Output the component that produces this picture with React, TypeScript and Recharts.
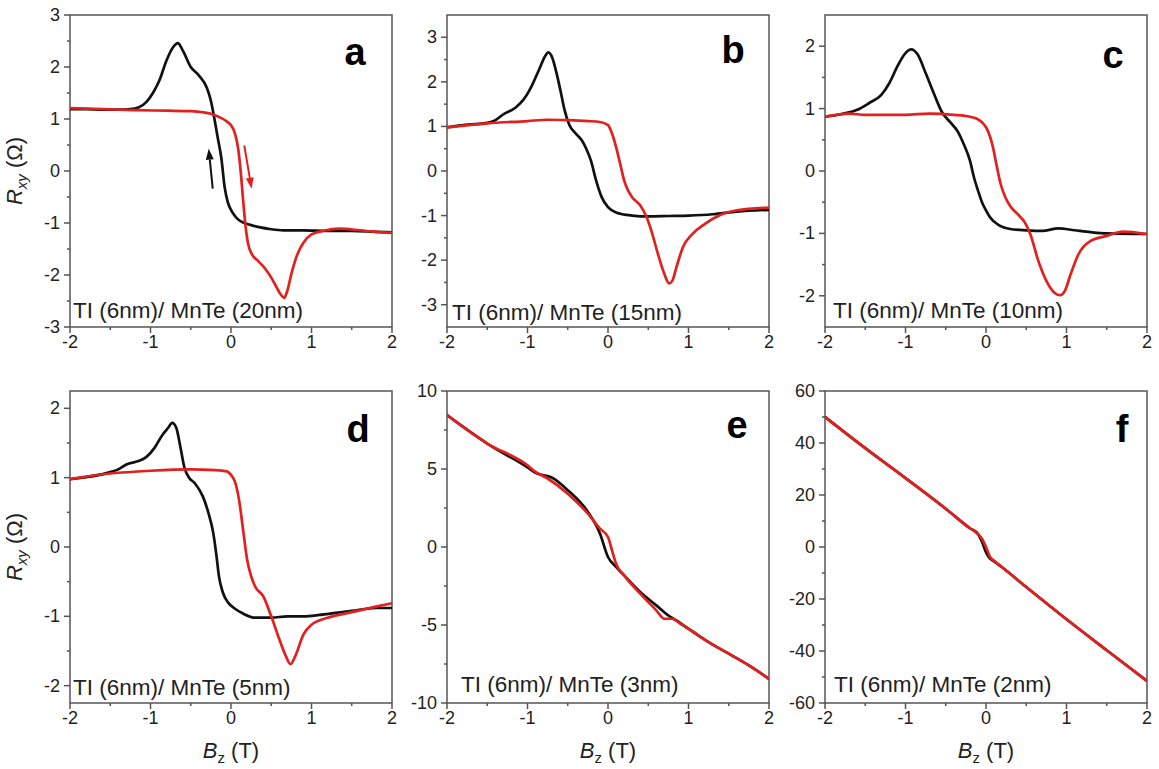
import { LineChart, Line, XAxis, YAxis, ReferenceArea, ReferenceLine } from 'recharts';

type Pt = [number, number];

const FONT = '"Liberation Sans", Arial, sans-serif';
const AXIS = '#555';
const INK = '#222';
const RED = '#e2201e';
const BLACK = '#111';

const PW = 322;
const PH = 312;

// field axis, same for every panel
const bMajor = [-2, -1, 0, 1, 2];
const bMinor = [-1.5, -0.5, 0.5, 1.5];

// a: TI (6nm)/ MnTe (20nm)
const aMajor = [-3, -2, -1, 0, 1, 2, 3];
const aMinor = [-2.5, -1.5, -0.5, 0.5, 1.5, 2.5];
const aBlack: Pt[] = [
  [-2, 1.19], [-1.8, 1.19], [-1.6, 1.18], [-1.4, 1.18], [-1.25, 1.19], [-1.15, 1.22], [-1.05, 1.33],
  [-0.97, 1.5], [-0.89, 1.74], [-0.8, 2.13], [-0.72, 2.38], [-0.66, 2.46], [-0.6, 2.32], [-0.5, 2.0],
  [-0.4, 1.84], [-0.3, 1.6], [-0.25, 1.35], [-0.2, 0.95], [-0.16, 0.6], [-0.12, 0.25], [-0.08, -0.3],
  [-0.04, -0.6], [0.02, -0.8], [0.08, -0.92], [0.15, -0.99], [0.25, -1.04], [0.35, -1.08], [0.5, -1.12],
  [0.65, -1.14], [0.9, -1.14], [1.2, -1.15], [1.5, -1.15], [1.8, -1.17], [2, -1.18],
];
const aRed: Pt[] = [
  [-2, 1.21], [-1.6, 1.19], [-1.2, 1.17], [-0.8, 1.16], [-0.5, 1.15], [-0.35, 1.13], [-0.25, 1.1],
  [-0.15, 1.04], [-0.05, 0.95], [0, 0.88], [0.05, 0.72], [0.09, 0.42], [0.12, 0.0], [0.15, -0.55],
  [0.18, -1.05], [0.21, -1.38], [0.26, -1.6], [0.33, -1.72], [0.42, -1.87], [0.5, -2.05], [0.56, -2.22],
  [0.62, -2.38], [0.66, -2.44], [0.7, -2.3], [0.75, -1.98], [0.82, -1.62], [0.9, -1.38], [1.0, -1.22],
  [1.15, -1.15], [1.35, -1.11], [1.6, -1.14], [1.8, -1.17], [2, -1.19],
];
const aArrows = [
  { from: [-0.227, -0.34] as Pt, to: [-0.277, 0.43] as Pt, color: BLACK },
  { from: [0.165, 0.49] as Pt, to: [0.256, -0.34] as Pt, color: RED },
];

// b: 15nm
const bYMajor = [-3, -2, -1, 0, 1, 2, 3];
const bYMinor = [-2.5, -1.5, -0.5, 0.5, 1.5, 2.5];
const bBlack: Pt[] = [
  [-2, 0.98], [-1.75, 1.04], [-1.5, 1.08], [-1.42, 1.12], [-1.3, 1.27], [-1.15, 1.42], [-1.05, 1.6],
  [-0.95, 1.9], [-0.85, 2.3], [-0.78, 2.58], [-0.74, 2.66], [-0.69, 2.53], [-0.64, 2.2], [-0.59, 1.8],
  [-0.54, 1.37], [-0.48, 1.03], [-0.4, 0.84], [-0.33, 0.7], [-0.27, 0.5], [-0.21, 0.22], [-0.15, -0.2],
  [-0.08, -0.58], [0, -0.81], [0.1, -0.93], [0.3, -1.0], [0.5, -1.02], [0.75, -1.01], [1.0, -1.0],
  [1.3, -0.97], [1.6, -0.91], [2, -0.87],
];
const bRed: Pt[] = [
  [-2, 0.98], [-1.5, 1.07], [-1.0, 1.12], [-0.75, 1.15], [-0.5, 1.14], [-0.25, 1.12], [-0.1, 1.1],
  [0, 1.03], [0.05, 0.84], [0.1, 0.54], [0.15, 0.17], [0.2, -0.21], [0.25, -0.44], [0.3, -0.59],
  [0.4, -0.77], [0.48, -1.04], [0.55, -1.41], [0.62, -1.86], [0.7, -2.31], [0.76, -2.52], [0.8, -2.46],
  [0.85, -2.16], [0.93, -1.71], [1.05, -1.41], [1.2, -1.19], [1.4, -0.98], [1.6, -0.88], [2, -0.82],
];

// c: 10nm
const cYMajor = [-2, -1, 0, 1, 2];
const cYMinor = [-1.5, -0.5, 0.5, 1.5];
const cBlack: Pt[] = [
  [-2, 0.87], [-1.8, 0.91], [-1.6, 0.98], [-1.45, 1.09], [-1.3, 1.22], [-1.2, 1.41], [-1.1, 1.68],
  [-1.0, 1.89], [-0.93, 1.95], [-0.85, 1.87], [-0.75, 1.57], [-0.65, 1.25], [-0.55, 0.95], [-0.45, 0.79],
  [-0.35, 0.63], [-0.28, 0.44], [-0.2, 0.17], [-0.15, -0.1], [-0.1, -0.31], [-0.05, -0.5], [0, -0.63],
  [0.05, -0.74], [0.15, -0.86], [0.3, -0.93], [0.5, -0.95], [0.7, -0.96], [0.9, -0.92], [1.1, -0.95],
  [1.3, -0.98], [1.5, -1.0], [2, -1.01],
];
const cRed: Pt[] = [
  [-2, 0.87], [-1.7, 0.92], [-1.5, 0.9], [-1.0, 0.9], [-0.7, 0.92], [-0.4, 0.9], [-0.2, 0.87],
  [-0.12, 0.84], [-0.05, 0.78], [0.01, 0.68], [0.05, 0.55], [0.09, 0.36], [0.13, 0.1], [0.18, -0.2],
  [0.24, -0.42], [0.3, -0.56], [0.4, -0.7], [0.48, -0.82], [0.55, -1.01], [0.65, -1.44], [0.75, -1.76],
  [0.85, -1.95], [0.92, -1.99], [0.98, -1.92], [1.05, -1.66], [1.15, -1.33], [1.3, -1.12], [1.5, -1.04],
  [1.7, -0.97], [2, -1.01],
];

// d: 5nm
const dYMajor = [-2, -1, 0, 1, 2];
const dYMinor = [-1.5, -0.5, 0.5, 1.5];
const dBlack: Pt[] = [
  [-2, 0.98], [-1.5, 1.08], [-1.4, 1.12], [-1.3, 1.19], [-1.15, 1.24], [-1.05, 1.3], [-0.95, 1.43],
  [-0.85, 1.62], [-0.78, 1.72], [-0.73, 1.79], [-0.68, 1.72], [-0.63, 1.45], [-0.58, 1.15], [-0.52, 1.0],
  [-0.45, 0.92], [-0.35, 0.73], [-0.28, 0.49], [-0.22, 0.2], [-0.18, -0.13], [-0.15, -0.42], [-0.1, -0.66],
  [-0.03, -0.81], [0.05, -0.89], [0.15, -0.96], [0.3, -1.02], [0.5, -1.02], [0.7, -1.0], [0.9, -1.0],
  [1.1, -0.98], [1.3, -0.95], [1.5, -0.92], [1.8, -0.88], [2, -0.88],
];
const dRed: Pt[] = [
  [-2, 0.98], [-1.5, 1.06], [-1.0, 1.1], [-0.5, 1.12], [-0.2, 1.11], [-0.05, 1.09], [0, 1.04],
  [0.05, 0.94], [0.1, 0.68], [0.15, 0.25], [0.2, -0.18], [0.25, -0.42], [0.3, -0.57], [0.4, -0.71],
  [0.5, -1.0], [0.6, -1.33], [0.68, -1.57], [0.74, -1.69], [0.8, -1.57], [0.9, -1.26], [1.0, -1.12],
  [1.2, -1.02], [1.5, -0.94], [1.8, -0.86], [2, -0.81],
];

// e: 3nm
const eYMajor = [-10, -5, 0, 5, 10];
const eYMinor = [-7.5, -2.5, 2.5, 7.5];
const eBlack: Pt[] = [
  [-2, 8.45], [-1.5, 6.63], [-1.0, 5.1], [-0.9, 4.75], [-0.8, 4.6], [-0.7, 4.45], [-0.5, 3.64],
  [-0.25, 2.25], [-0.1, 0.86], [0, -0.64], [0.1, -1.28], [0.2, -1.82], [0.4, -2.89], [0.6, -3.74],
  [0.75, -4.39], [0.85, -4.71], [1.0, -5.24], [1.25, -6.1], [1.5, -6.84], [1.75, -7.59], [2, -8.45],
];
const eRed: Pt[] = [
  [-2, 8.45], [-1.5, 6.63], [-1.0, 5.24], [-0.9, 4.81], [-0.75, 4.39], [-0.5, 3.42], [-0.25, 2.14],
  [-0.1, 1.18], [0, 0.64], [0.05, -0.21], [0.1, -1.07], [0.2, -1.82], [0.4, -2.99], [0.6, -4.06],
  [0.7, -4.6], [0.8, -4.6], [0.9, -4.92], [1.0, -5.24], [1.25, -6.1], [1.5, -6.84], [1.75, -7.59], [2, -8.45],
];

// f: 2nm
const fYMajor = [-60, -40, -20, 0, 20, 40, 60];
const fYMinor = [-50, -30, -10, 10, 30, 50];
const fBlack: Pt[] = [
  [-2, 50], [-1.5, 38], [-1, 26.5], [-0.5, 14.7], [-0.2, 7.2], [-0.1, 5], [-0.05, 2], [0, -2],
  [0.05, -4.5], [0.1, -5.5], [0.2, -7.8], [0.5, -15.4], [1, -27.8], [1.5, -39.7], [2, -51.5],
];
const fRed: Pt[] = [
  [-2, 50], [-1.5, 38], [-1, 26.5], [-0.5, 14.7], [-0.2, 7.2], [-0.1, 5], [-0.05, 3.2], [0, 0],
  [0.05, -3.8], [0.1, -5.3], [0.2, -7.8], [0.5, -15.4], [1, -27.8], [1.5, -39.7], [2, -51.5],
];

type Arrow = { from: Pt; to: Pt; color: string };
type PanelCfg = {
  letter: string;
  sample: string;
  left: number;
  top: number;
  yDomain: [number, number];
  yMajor: number[];
  yMinor: number[];
  black: Pt[];
  red: Pt[];
  arrows?: Arrow[];
  textDx: number;
  textDy: number;
  letterX: number;
  letterY: number;
};

const panels: PanelCfg[] = [
  { letter: 'a', sample: 'TI (6nm)/ MnTe (20nm)', left: 70, top: 15, yDomain: [-3, 3], yMajor: aMajor, yMinor: aMinor, black: aBlack, red: aRed, arrows: aArrows, textDx: 3, textDy: 9, letterX: 285, letterY: 50 },
  { letter: 'b', sample: 'TI (6nm)/ MnTe (15nm)', left: 447, top: 15, yDomain: [-3.5, 3.5], yMajor: bYMajor, yMinor: bYMinor, black: bBlack, red: bRed, textDx: 5, textDy: 7, letterX: 286, letterY: 48 },
  { letter: 'c', sample: 'TI (6nm)/ MnTe (10nm)', left: 825, top: 15, yDomain: [-2.5, 2.5], yMajor: cYMajor, yMinor: cYMinor, black: cBlack, red: cRed, textDx: 8, textDy: 9, letterX: 288, letterY: 53 },
  { letter: 'd', sample: 'TI (6nm)/ MnTe (5nm)', left: 70, top: 391, yDomain: [-2.25, 2.25], yMajor: dYMajor, yMinor: dYMinor, black: dBlack, red: dRed, textDx: 3, textDy: 8, letterX: 288, letterY: 51 },
  { letter: 'e', sample: 'TI (6nm)/ MnTe (3nm)', left: 447, top: 391, yDomain: [-10, 10], yMajor: eYMajor, yMinor: eYMinor, black: eBlack, red: eRed, textDx: 14, textDy: 11, letterX: 290, letterY: 47 },
  { letter: 'f', sample: 'TI (6nm)/ MnTe (2nm)', left: 825, top: 391, yDomain: [-60, 60], yMajor: fYMajor, yMinor: fYMinor, black: fBlack, red: fRed, textDx: 9, textDy: 11, letterX: 297, letterY: 51 },
];

const pts = (arr: Pt[]) => arr.map(([x, y]) => ({ x, y }));
const byValue = (a: number, b: number) => a - b;

function XTick({ x, y, payload }: any) {
  const major = bMajor.includes(payload.value);
  return (
    <g>
      <line x1={x} y1={y} x2={x} y2={y + (major ? 6 : 3)} stroke={AXIS} strokeWidth={1.5} />
      {major && (
        <text x={x} y={y + 21} textAnchor="middle" fontSize={18} fill={INK} fontFamily={FONT}>
          {payload.value}
        </text>
      )}
    </g>
  );
}

function YTick({ x, y, payload, majors }: any) {
  const major = majors.includes(payload.value);
  return (
    <g>
      <line x1={x} y1={y} x2={x - (major ? 6 : 3)} y2={y} stroke={AXIS} strokeWidth={1.5} />
      {major && (
        <text x={x - 10} y={y + 6} textAnchor="end" fontSize={18} fill={INK} fontFamily={FONT}>
          {payload.value}
        </text>
      )}
    </g>
  );
}

function arrowShape(color: string) {
  return (p: any) => {
    const { x1, y1, x2, y2 } = p;
    const ang = Math.atan2(y2 - y1, x2 - x1);
    const len = 11;
    const half = 4;
    const bx = x2 - len * Math.cos(ang);
    const by = y2 - len * Math.sin(ang);
    const nx = -Math.sin(ang) * half;
    const ny = Math.cos(ang) * half;
    return (
      <g>
        <line x1={x1} y1={y1} x2={bx} y2={by} stroke={color} strokeWidth={2} />
        <polygon points={`${x2},${y2} ${bx + nx},${by + ny} ${bx - nx},${by - ny}`} fill={color} />
      </g>
    );
  };
}

function Panel({ cfg }: { cfg: PanelCfg }) {
  const yTicks = [...cfg.yMajor, ...cfg.yMinor].sort(byValue);
  const xTicks = [...bMajor, ...bMinor].sort(byValue);
  return (
    <div style={{ position: 'absolute', left: cfg.left - 60, top: cfg.top - 10 }}>
      <LineChart width={60 + PW + 10} height={10 + PH + 40} margin={{ top: 10, right: 10, left: 0, bottom: 0 }}>
        <XAxis
          type="number"
          dataKey="x"
          domain={[-2, 2]}
          ticks={xTicks}
          interval={0}
          height={40}
          tickSize={0}
          tickMargin={0}
          tickLine={false}
          axisLine={false}
          allowDataOverflow
          tick={<XTick />}
        />
        <YAxis
          type="number"
          dataKey="y"
          domain={cfg.yDomain}
          ticks={yTicks}
          interval={0}
          width={60}
          tickSize={0}
          tickMargin={0}
          tickLine={false}
          axisLine={false}
          allowDataOverflow
          tick={<YTick majors={cfg.yMajor} />}
        />
        <ReferenceArea
          x1={-2}
          x2={2}
          y1={cfg.yDomain[0]}
          y2={cfg.yDomain[1]}
          fill="none"
          stroke={AXIS}
          strokeWidth={1.5}
          ifOverflow="visible"
        />
        <Line data={pts(cfg.black)} dataKey="y" type="monotone" stroke={BLACK} strokeWidth={2.7} dot={false} isAnimationActive={false} />
        <Line data={pts(cfg.red)} dataKey="y" type="monotone" stroke={RED} strokeWidth={2.7} dot={false} isAnimationActive={false} />
        {(cfg.arrows || []).map((a, i) => (
          <ReferenceLine
            key={i}
            segment={[{ x: a.from[0], y: a.from[1] }, { x: a.to[0], y: a.to[1] }]}
            ifOverflow="visible"
            shape={arrowShape(a.color)}
          />
        ))}
      </LineChart>
    </div>
  );
}

function Texts() {
  return (
    <svg width={1159} height={769} style={{ position: 'absolute', left: 0, top: 0, pointerEvents: 'none' }} fontFamily={FONT}>
      {panels.map((p) => (
        <g key={p.letter}>
          <text x={p.left + p.textDx} y={p.top + PH - p.textDy} fontSize={22.5} fill={INK}>
            {p.sample}
          </text>
          <text x={p.left + p.letterX} y={p.top + p.letterY} textAnchor="middle" fontSize={38} fontWeight="bold" fill="#000">
            {p.letter}
          </text>
        </g>
      ))}
      {[15, 391].map((top) => (
        <text key={top} transform={`translate(22,${top + PH / 2}) rotate(-90)`} textAnchor="middle" fontSize={22} fill={INK}>
          <tspan fontStyle="italic">R</tspan>
          <tspan fontSize={15} dy={5} fontStyle="italic">xy</tspan>
          <tspan dy={-5}> (Ω)</tspan>
        </text>
      ))}
      {[70, 447, 825].map((left) => (
        <text key={left} x={left + PW / 2} y={758} textAnchor="middle" fontSize={22} fill={INK}>
          <tspan fontStyle="italic">B</tspan>
          <tspan fontSize={15} dy={5}>z</tspan>
          <tspan dy={-5}> (T)</tspan>
        </text>
      ))}
    </svg>
  );
}

export default function App() {
  return (
    <div style={{ position: 'absolute', left: 0, top: 0, width: 1159, height: 769, background: '#fff' }}>
      {panels.map((p) => (
        <Panel key={p.letter} cfg={p} />
      ))}
      <Texts />
    </div>
  );
}
